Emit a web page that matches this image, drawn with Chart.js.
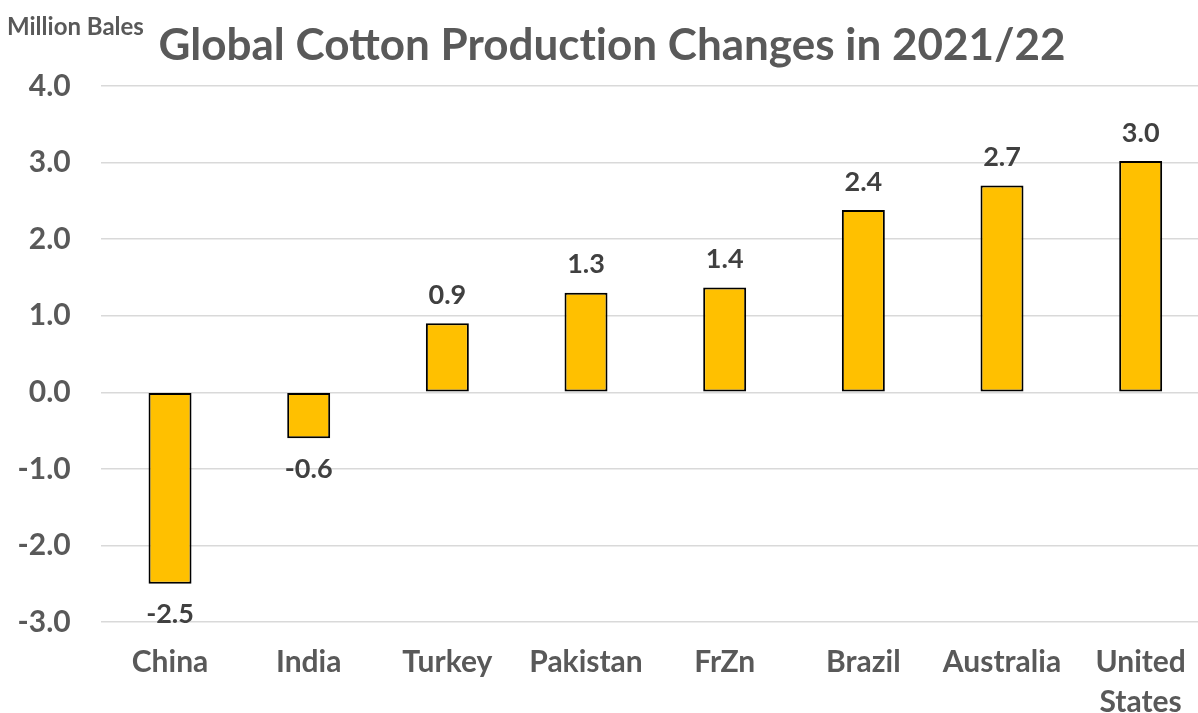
<!DOCTYPE html>
<html>
<head>
<meta charset="utf-8">
<script src="https://cdn.jsdelivr.net/npm/chart.js@4.4.1/dist/chart.umd.min.js"></script>
<style>
  html, body { margin: 0; padding: 0; background: #fff; overflow: hidden; }
  #wrap { position: relative; width: 1212px; height: 713px; }
</style>
</head>
<body>
<div id="wrap"><canvas id="chart" width="1212" height="713"></canvas></div>
<script>
const countries = ['China', 'India', 'Turkey', 'Pakistan', 'FrZn', 'Brazil', 'Australia', ['United', 'States']];
const changes = [-2.5, -0.6, 0.9, 1.3, 1.37, 2.38, 2.7, 3.02];
const yTicks = [-3, -2, -1, 0, 1, 2, 3, 4];

const titleText = 'Global Cotton Production Changes in 2021/22';
const unitText = 'Million Bales';
const FONT = 'Lato, "Open Sans", sans-serif';

// draw text in pieces so Lato's "ti" ligature is not used
function fillNoLigature(ctx, text, cx, y) {
  const parts = text.split(/(?<=t)(?=i)/);
  const widths = parts.map(p => ctx.measureText(p).width);
  let x = cx - widths.reduce((a, b) => a + b, 0) / 2;
  ctx.textAlign = 'left';
  parts.forEach((p, i) => { ctx.fillText(p, x, y); x += widths[i]; });
}

// titles and value labels
const textPlugin = {
  id: 'textPlugin',
  afterDatasetsDraw(chart) {
    const ctx = chart.ctx;
    const meta = chart.getDatasetMeta(0);
    ctx.save();
    ctx.fillStyle = '#404040';
    ctx.font = 'bold 27px ' + FONT;
    ctx.textAlign = 'center';
    ctx.textBaseline = 'middle';
    meta.data.forEach((bar, i) => {
      const v = changes[i];
      const y = v >= 0 ? bar.y - 28 : bar.y + 31;
      ctx.fillText(v.toFixed(1), bar.x, y);
    });

    ctx.fillStyle = '#595959';
    ctx.font = 'bold 44px ' + FONT;
    fillNoLigature(ctx, titleText, 612, 46);

    ctx.font = 'bold 24px ' + FONT;
    ctx.textAlign = 'left';
    ctx.fillText(unitText, 7, 27);
    ctx.restore();
  }
};

new Chart(document.getElementById('chart'), {
  type: 'bar',
  data: {
    labels: countries,
    datasets: [{
      data: changes,
      backgroundColor: '#FFC000',
      borderColor: '#000000',
      borderWidth: 2,
      borderSkipped: false,
      barPercentage: 0.31,
      categoryPercentage: 1.0
    }]
  },
  options: {
    responsive: false,
    animation: false,
    layout: { padding: { top: 86, left: 0, right: 2, bottom: 0 } },
    plugins: {
      legend: { display: false },
      tooltip: { enabled: false }
    },
    scales: {
      y: {
        min: -3,
        max: 4,
        afterBuildTicks: axis => { axis.ticks = yTicks.map(v => ({ value: v })); },
        afterFit: axis => { axis.width = 100.7; },
        ticks: {
          color: '#595959',
          font: { family: FONT, size: 30, weight: 'bold' },
          padding: 30,
          callback: v => v.toFixed(1)
        },
        grid: { color: '#d9d9d9', lineWidth: 1.5, drawTicks: false },
        border: { display: false }
      },
      x: {
        afterFit: axis => { axis.height = 91; },
        ticks: {
          color: '#595959',
          font: { family: FONT, size: 30, weight: 'bold', lineHeight: 1.33 },
          padding: 20,
          maxRotation: 0,
          autoSkip: false
        },
        grid: { display: false, drawTicks: false },
        border: { display: false }
      }
    }
  },
  plugins: [textPlugin]
});
</script>
</body>
</html>
